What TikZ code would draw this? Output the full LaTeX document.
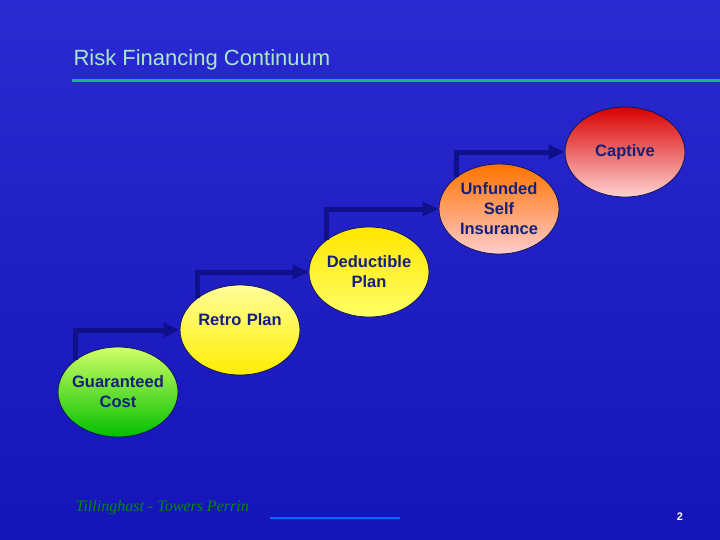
\documentclass[tikz,border=0pt]{standalone}
\usepackage{fontspec}
\setmainfont{Liberation Sans}
\newfontfamily\footfont{Liberation Serif}
\usetikzlibrary{shapes.geometric}
\usetikzlibrary{arrows.meta}
\definecolor{navy}{HTML}{14207A}
\definecolor{arrowblue}{HTML}{10108A}
\definecolor{titlegreen}{HTML}{A8E8C8}
\definecolor{rulegreen}{HTML}{20B070}
\definecolor{bgtop}{HTML}{2A2AD0}
\definecolor{bgmid}{HTML}{7070E8}
\definecolor{bgbot}{HTML}{1414B8}

\tikzset{
  stage/.style={ellipse, draw=navy!70!black, line width=0.8pt, minimum width=120pt,
    minimum height=90pt, inner xsep=-12pt, inner ysep=0pt, text width=100pt, align=center, text=navy,
    font=\bfseries\fontsize{16.5}{20}\selectfont},
  climb/.style={draw=arrowblue, line width=5pt, -{Triangle[length=16pt,width=14pt]}}
}

\begin{document}
\begin{tikzpicture}[x=1pt,y=-1pt]
  % background
  \shade[top color=bgtop, middle color=bgmid, bottom color=bgbot]
    (0,0) rectangle (720,539);
  \useasboundingbox (0,0) rectangle (720,539);

  % title
  \node[anchor=west, text=titlegreen, font=\fontsize{22}{25}\selectfont] (title) at (70,60) {Risk Financing Continuum};
  \draw[rulegreen, line width=3pt] (72,80) -- (720,80);

  % stages
  \node[stage, top color=green!30!yellow!60!white, bottom color=green!75!black] (gc) at (118,392) {Guaranteed\\Cost};
  \node[stage, top color=yellow!40!white, bottom color=yellow!85!orange] (rp) at (240,330) {Retro Plan\\ \mbox{}};
  \node[stage, top color=yellow!80!orange, bottom color=yellow!60!white] (dp) at (369,272) {Deductible\\Plan};
  \node[stage, top color=orange!90!red, bottom color=pink!80!white] (us) at (499,209) {Unfunded\\Self\\Insurance};
  \node[stage, top color=red!85!black, bottom color=pink!70!white] (cp) at (625,152) {Captive};

  % connectors
  \draw[climb] (gc.north west) |- (rp.west);
  \draw[climb] (rp.north west) |- (dp.west);
  \draw[climb] (dp.north west) |- (us.west);
  \draw[climb] (us.north west) |- (cp.west);

  % footer
  \node[anchor=west, text=green!55!black, font=\footfont\itshape\fontsize{16}{18}\selectfont] (firm) at (72,508) {Tillinghast - Towers Perrin};
  \draw[blue!60!cyan, line width=2.5pt] (270,518) -- (400,518);
  \node[text=white, font=\bfseries\fontsize{11}{13}\selectfont] (page) at (680,517) {2};
\end{tikzpicture}
\end{document}
